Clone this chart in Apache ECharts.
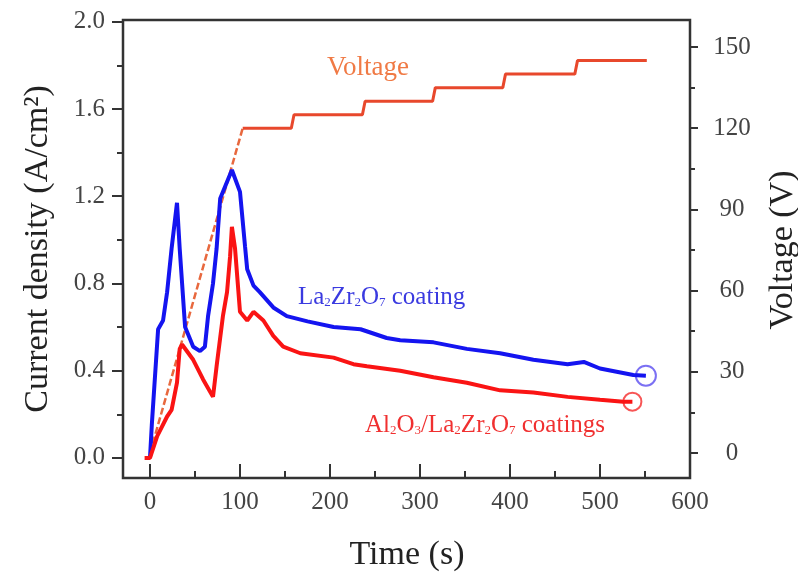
<!DOCTYPE html>
<html>
<head>
<meta charset="utf-8">
<title>Current density and voltage vs time</title>
<script src="https://cdn.jsdelivr.net/npm/echarts@6/dist/echarts.min.js"></script>
<style>
  html, body { margin: 0; padding: 0; background: #fff; }
  #chart { width: 798px; height: 572px; }
</style>
</head>
<body>
<div id="chart"></div>
<script>
// La2Zr2O7 coating (blue), time in s / current density in A/cm2
var blueTime = [0, 2, 9, 14.5, 19, 24, 30, 33, 39, 48, 55.6, 61, 64.5, 70, 74, 78, 91, 100, 105.6, 108, 115, 122, 137, 152, 175, 204, 234, 263, 278, 315, 352, 389, 426, 464, 482, 500, 537, 551];
var blueCurrent = [0, 0.15, 0.59, 0.63, 0.76, 0.96, 1.17, 0.96, 0.60, 0.51, 0.49, 0.51, 0.65, 0.80, 0.96, 1.19, 1.32, 1.22, 0.97, 0.865, 0.79, 0.76, 0.69, 0.65, 0.626, 0.60, 0.59, 0.55, 0.54, 0.53, 0.50, 0.48, 0.45, 0.43, 0.44, 0.41, 0.38, 0.377];

// Al2O3/La2Zr2O7 coatings (red)
var redTime = [-6, 0, 8, 19, 24, 30, 33, 35.6, 48, 59, 70, 74, 81, 85.6, 89, 91, 94.5, 100, 108, 115, 126, 137, 148, 167, 204, 226, 241, 278, 315, 352, 389, 426, 464, 500, 526, 536];
var redCurrent = [0, 0, 0.10, 0.19, 0.22, 0.345, 0.50, 0.52, 0.45, 0.36, 0.28, 0.42, 0.65, 0.76, 0.925, 1.06, 0.96, 0.67, 0.63, 0.67, 0.63, 0.56, 0.51, 0.48, 0.46, 0.43, 0.42, 0.40, 0.37, 0.345, 0.31, 0.30, 0.28, 0.267, 0.258, 0.258];

// applied voltage: linear ramp, then steps
var rampTime = [0, 103];
var rampVoltage = [0, 120];
var stepTime = [103, 157, 160, 236, 239, 314, 317, 392, 395, 472, 475, 552];
var stepVoltage = [120, 120, 125, 125, 130, 130, 135, 135, 140, 140, 145, 145];

// tick values
var timeTicks = [0, 100, 200, 300, 400, 500, 600];
var timeMinor = [50, 150, 250, 350, 450, 550];
var currentTicks = [0, 0.4, 0.8, 1.2, 1.6, 2.0];
var currentMinor = [0.2, 0.6, 1.0, 1.4, 1.8];
var voltTicks = [0, 30, 60, 90, 120, 150];
var voltMinor = [15, 45, 75, 105, 135];

function pairs(xs, ys) {
  return xs.map(function (x, i) { return [x, ys[i]]; });
}

var FONT = "'Liberation Serif', 'DejaVu Serif', serif";
var AXIS_COLOR = "#333";

var chart = echarts.init(document.getElementById("chart"));

var option = {
  animation: false,
  grid: {
    left: 123, right: 108, top: 20, bottom: 94,
    show: true, borderColor: AXIS_COLOR, borderWidth: 2.5, backgroundColor: "transparent"
  },
  xAxis: [
    {
      type: "value", min: -30, max: 600,
      axisLine: { show: false, onZero: false },
      splitLine: { show: false },
      axisTick: { inside: true, length: 14, customValues: timeTicks, lineStyle: { color: AXIS_COLOR, width: 2 } },
      axisLabel: { customValues: timeTicks, margin: 12, color: "#444", fontFamily: FONT, fontSize: 25 }
    },
    {
      type: "value", min: -30, max: 600, position: "bottom",
      axisLine: { show: false, onZero: false },
      splitLine: { show: false },
      axisTick: { inside: true, length: 7, customValues: timeMinor, lineStyle: { color: AXIS_COLOR, width: 2 } },
      axisLabel: { show: false }
    }
  ],
  yAxis: [
    {
      type: "value", min: -0.092, max: 2.008, position: "left",
      axisLine: { show: false, onZero: false },
      splitLine: { show: false },
      axisTick: { length: 11, customValues: currentTicks, lineStyle: { color: AXIS_COLOR, width: 2 } },
      axisLabel: {
        customValues: currentTicks, margin: 18, color: "#444", fontFamily: FONT, fontSize: 25,
        formatter: function (v) { return v.toFixed(1); }
      }
    },
    {
      type: "value", min: -9.24, max: 160, position: "right",
      axisLine: { show: false, onZero: false },
      splitLine: { show: false },
      axisTick: { length: 8, customValues: voltTicks, lineStyle: { color: AXIS_COLOR, width: 2 } },
      axisLabel: { customValues: voltTicks, margin: 42, align: "center", color: "#444", fontFamily: FONT, fontSize: 25 }
    },
    {
      type: "value", min: -0.092, max: 2.008, position: "left",
      axisLine: { show: false, onZero: false },
      splitLine: { show: false },
      axisTick: { length: 6, customValues: currentMinor, lineStyle: { color: AXIS_COLOR, width: 2 } },
      axisLabel: { show: false }
    },
    {
      type: "value", min: -9.24, max: 160, position: "right",
      axisLine: { show: false, onZero: false },
      splitLine: { show: false },
      axisTick: { length: 5, customValues: voltMinor, lineStyle: { color: AXIS_COLOR, width: 2 } },
      axisLabel: { show: false }
    }
  ],
  series: [
    {
      name: "Voltage ramp", type: "line", yAxisIndex: 1, symbol: "none",
      data: pairs(rampTime, rampVoltage),
      lineStyle: { color: "#e8683e", width: 2.5, type: [7, 3] }
    },
    {
      name: "Voltage", type: "line", yAxisIndex: 1, symbol: "none",
      data: pairs(stepTime, stepVoltage),
      lineStyle: { color: "#e8482c", width: 3 }
    },
    {
      name: "La2Zr2O7 coating", type: "line", yAxisIndex: 0, symbol: "none",
      data: pairs(blueTime, blueCurrent),
      lineStyle: { color: "#1414f0", width: 4 }
    },
    {
      name: "Al2O3/La2Zr2O7 coatings", type: "line", yAxisIndex: 0, symbol: "none",
      data: pairs(redTime, redCurrent),
      lineStyle: { color: "#fa1414", width: 4 }
    },
    {
      type: "scatter", yAxisIndex: 0, symbol: "circle", symbolSize: 20,
      data: [[blueTime[blueTime.length - 1], blueCurrent[blueCurrent.length - 1]]],
      itemStyle: { color: "transparent", borderColor: "#5a4cf0", borderWidth: 2 }
    },
    {
      type: "scatter", yAxisIndex: 0, symbol: "circle", symbolSize: 18,
      data: [[redTime[redTime.length - 1], redCurrent[redCurrent.length - 1]]],
      itemStyle: { color: "transparent", borderColor: "#f52a2a", borderWidth: 2 }
    }
  ],
  graphic: [
    {
      type: "text", x: 38, y: 249, rotation: Math.PI / 2,
      style: { text: "Current density (A/cm²)", fontFamily: FONT, fontSize: 34, fill: "#222", align: "center", verticalAlign: "middle" }
    },
    {
      type: "text", x: 783, y: 250, rotation: Math.PI / 2,
      style: { text: "Voltage (V)", fontFamily: FONT, fontSize: 34, fill: "#222", align: "center", verticalAlign: "middle" }
    },
    {
      type: "text", x: 407, y: 555,
      style: { text: "Time (s)", fontFamily: FONT, fontSize: 34, fill: "#222", align: "center", verticalAlign: "middle" }
    },
    {
      type: "text", x: 327, y: 68,
      style: { text: "Voltage", fontFamily: FONT, fontSize: 27, fill: "#f07a45", align: "left", verticalAlign: "middle" }
    },
    {
      type: "text", x: 298, y: 297,
      style: {
        text: "La{s|2}Zr{s|2}O{s|7} coating", fontFamily: FONT, fontSize: 25, fill: "#3a3ae0",
        align: "left", verticalAlign: "middle",
        rich: { s: { fontFamily: FONT, fontSize: 13, fill: "#3a3ae0", verticalAlign: "bottom", lineHeight: 20 } }
      }
    },
    {
      type: "text", x: 365, y: 425,
      style: {
        text: "Al{s|2}O{s|3}/La{s|2}Zr{s|2}O{s|7} coatings", fontFamily: FONT, fontSize: 25, fill: "#f03030",
        align: "left", verticalAlign: "middle",
        rich: { s: { fontFamily: FONT, fontSize: 13, fill: "#f03030", verticalAlign: "bottom", lineHeight: 20 } }
      }
    }
  ]
};

chart.setOption(option);
</script>
</body>
</html>
